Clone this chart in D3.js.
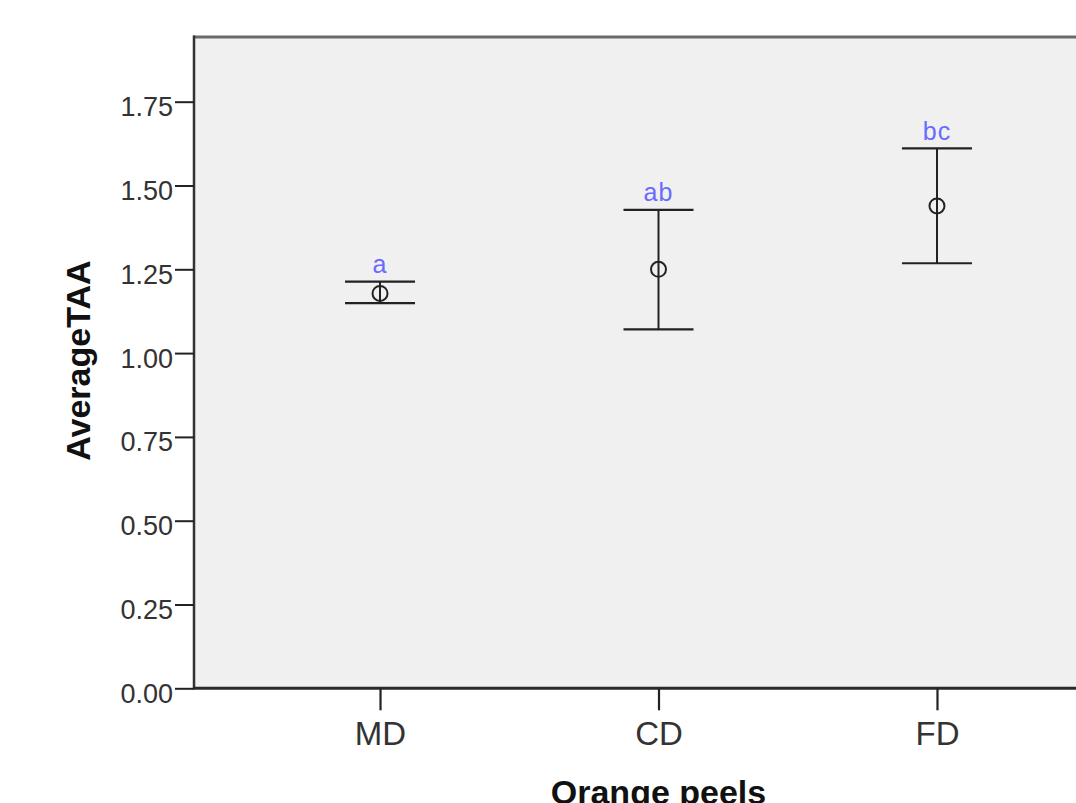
<!DOCTYPE html>
<html>
<head>
<meta charset="utf-8">
<script src="https://cdn.jsdelivr.net/npm/d3@7"></script>
<style>
  html, body { margin: 0; padding: 0; background: #ffffff; }
  svg { display: block; font-family: "Liberation Sans", Arial, sans-serif; }
</style>
</head>
<body>
<svg id="chart" width="1076" height="803"></svg>
<script>
// ---- data ----
const categories = ["MD", "CD", "FD"];
const means      = [1.178, 1.250, 1.439];
const upper      = [1.213, 1.427, 1.611];
const lower      = [1.149, 1.071, 1.268];
const letters    = ["a", "ab", "bc"];
const yTicks     = [0, 0.25, 0.5, 0.75, 1.0, 1.25, 1.5, 1.75];
const xTitle = "Orange peels";
const yTitle = "AverageTAA";

// ---- layout ----
const plot = { left: 194, top: 37, right: 1123, bottom: 688.3 };
const svg = d3.select("#chart");

const x = d3.scalePoint()
  .domain(categories)
  .range([plot.left, plot.right])
  .padding(0.668);

const y = d3.scaleLinear()
  .domain([0, 1.943])
  .range([plot.bottom, plot.top]);

// background
svg.append("rect")
  .attr("x", plot.left).attr("y", plot.top)
  .attr("width", plot.right - plot.left)
  .attr("height", plot.bottom - plot.top)
  .attr("fill", "#f0f0f0");

// frame lines
svg.append("line")
  .attr("x1", plot.left - 1).attr("x2", plot.right)
  .attr("y1", plot.top).attr("y2", plot.top)
  .attr("stroke", "#6a6a6a").attr("stroke-width", 3);
svg.append("line")
  .attr("x1", plot.left).attr("x2", plot.left)
  .attr("y1", plot.top - 1.5).attr("y2", plot.bottom)
  .attr("stroke", "#333").attr("stroke-width", 2.5);
svg.append("line")
  .attr("x1", plot.left - 1).attr("x2", plot.right)
  .attr("y1", plot.bottom).attr("y2", plot.bottom)
  .attr("stroke", "#2a2a2a").attr("stroke-width", 3);

// y axis
const yAxis = d3.axisLeft(y)
  .tickValues(yTicks)
  .tickSize(19)
  .tickFormat(d3.format(".2f"));
const gy = svg.append("g")
  .attr("transform", `translate(${plot.left},0)`)
  .call(yAxis);
gy.select(".domain").remove();
gy.selectAll(".tick line").attr("stroke", "#222").attr("stroke-width", 2);
gy.selectAll(".tick text")
  .attr("x", -21)
  .attr("dy", "0.52em")
  .attr("fill", "#333")
  .style("font-size", "27px")
  .style("font-family", "'Liberation Sans', Arial, sans-serif");

// x axis
const xAxis = d3.axisBottom(x).tickSize(22).tickSizeOuter(0);
const gx = svg.append("g")
  .attr("transform", `translate(0,${plot.bottom})`)
  .call(xAxis);
gx.select(".domain").remove();
gx.selectAll(".tick line").attr("stroke", "#222").attr("stroke-width", 2.2);
gx.selectAll(".tick text")
  .attr("y", 57)
  .attr("dy", 0)
  .attr("fill", "#333")
  .style("font-size", "33px")
  .style("font-family", "'Liberation Sans', Arial, sans-serif");

// error bars
const capHalf = 35;
const g = svg.append("g");
categories.forEach((c, i) => {
  const cx = x(c);
  g.append("line")
    .attr("x1", cx).attr("x2", cx)
    .attr("y1", y(upper[i])).attr("y2", y(lower[i]))
    .attr("stroke", "#222").attr("stroke-width", 2);
  [upper[i], lower[i]].forEach(v => {
    g.append("line")
      .attr("x1", cx - capHalf).attr("x2", cx + capHalf)
      .attr("y1", y(v)).attr("y2", y(v))
      .attr("stroke", "#222").attr("stroke-width", 2.2);
  });
  g.append("circle")
    .attr("cx", cx).attr("cy", y(means[i]))
    .attr("r", 7.5)
    .attr("fill", "none")
    .attr("stroke", "#222").attr("stroke-width", 2);
  g.append("text")
    .attr("x", cx).attr("y", y(upper[i]) - 8.5)
    .attr("text-anchor", "middle")
    .attr("fill", "#6a6aff")
    .style("font-size", "25px")
    .style("letter-spacing", "1px")
    .text(letters[i]);
});

// axis titles
svg.append("text")
  .attr("x", x("CD")).attr("y", 804)
  .attr("text-anchor", "middle")
  .attr("fill", "#111")
  .style("font-size", "34px")
  .style("font-weight", "bold")
  .text(xTitle);

svg.append("text")
  .attr("transform", `translate(90,${(plot.top + plot.bottom) / 2 - 2}) rotate(-90)`)
  .attr("text-anchor", "middle")
  .attr("fill", "#111")
  .style("font-size", "34px")
  .style("font-weight", "bold")
  .text(yTitle);
</script>
</body>
</html>
